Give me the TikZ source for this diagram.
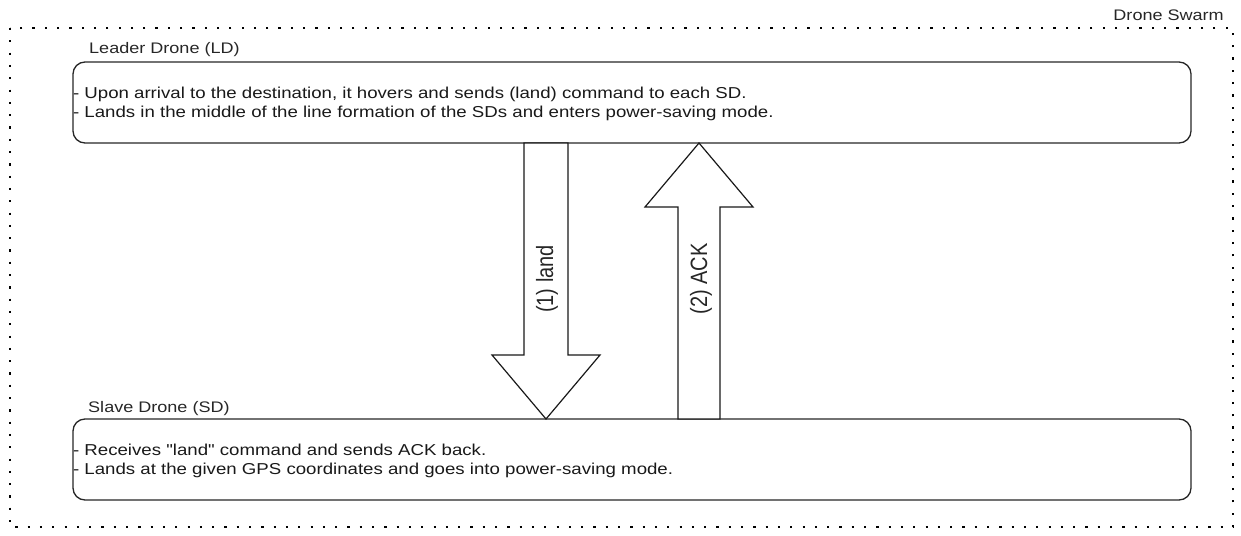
\documentclass[tikz,border=0pt]{standalone}
\usepackage{fontspec}
\setmainfont{Liberation Sans}[Ligatures=TeXOff, FakeStretch=1.18]
\newfontfamily\labelfont{Liberation Sans}[FakeStretch=0.847]
\begin{document}
\begin{tikzpicture}[x=1pt,y=-1pt,
  frame/.style={draw=black, line width=2.2pt, dash pattern=on 2.2pt off 10.1pt},
  panel/.style={draw=black!85, line width=1.3pt, rounded corners=12pt, inner sep=0pt},
  title/.style={font=\fontsize{15.3}{18}\selectfont, inner sep=0pt, text=black!85},
  body/.style={font=\fontsize{15.8}{19}\selectfont, align=left, inner sep=0pt, text=black!90},
  fatarrow/.style={draw=black!90, line width=1.2pt, fill=white, line join=miter},
  arrowlabel/.style={font=\labelfont\fontsize{23.6}{26}\selectfont, rotate=90, inner sep=0pt, text=black!85}]
  \useasboundingbox (0,0) rectangle (1241,535);

  % swarm boundary
  \draw[frame] (10,28) rectangle (1233,527);
  \node[title, anchor=base east] (swarm) at (1224,21) {Drone Swarm};

  % leader drone
  \node[panel, minimum width=1118pt, minimum height=81pt] (ld) at (632,102.5) {};
  \node[title, anchor=base west] (ldtitle) at (89,54) {Leader Drone (LD)};
  \node[body, anchor=west] (ldtext) at ([xshift=0.5pt,yshift=-1pt]ld.west) {- Upon arrival to the destination, it hovers and sends (land) command to each SD.\\- Lands in the middle of the line formation of the SDs and enters power-saving mode.};

  % slave drone
  \node[panel, minimum width=1118pt, minimum height=81pt] (sd) at (632,459.5) {};
  \node[title, anchor=base west] (sdtitle) at (88,412) {Slave Drone (SD)};
  \node[body, anchor=west] (sdtext) at ([xshift=0.5pt,yshift=-1.5pt]sd.west) {- Receives "land" command and sends ACK back.\\- Lands at the given GPS coordinates and goes into power-saving mode.};

  % (1) land: leader to slave
  \coordinate (landtop) at (546,143);
  \coordinate (landtip) at (546,419);
  \draw[fatarrow] ([xshift=-22pt]landtop) -- ([xshift=22pt]landtop) -- (568,355) -- (600,355)
    -- (landtip) -- (492,355) -- (524,355) -- cycle;
  \node[arrowlabel] (landlbl) at (547,279) {(1) land};

  % (2) ACK: slave to leader
  \coordinate (acktip) at (699,143);
  \coordinate (ackbase) at (699,419);
  \draw[fatarrow] ([xshift=-21pt]ackbase) -- ([xshift=21pt]ackbase) -- (720,207) -- (753,207)
    -- (acktip) -- (645,207) -- (678,207) -- cycle;
  \node[arrowlabel] (acklbl) at (701,279) {(2) ACK};
\end{tikzpicture}
\end{document}
